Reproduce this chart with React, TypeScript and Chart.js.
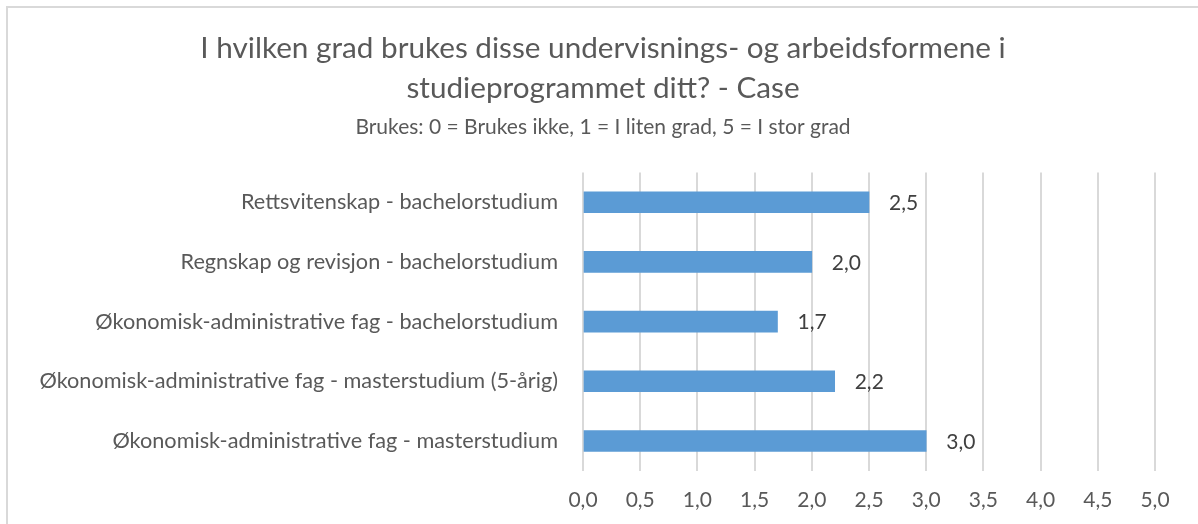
import React, { useEffect, useRef } from "react";
import { Chart, registerables } from "chart.js";

Chart.register(...registerables);

const categories = [
  "Rettsvitenskap - bachelorstudium",
  "Regnskap og revisjon - bachelorstudium",
  "Økonomisk-administrative fag - bachelorstudium",
  "Økonomisk-administrative fag - masterstudium (5-årig)",
  "Økonomisk-administrative fag - masterstudium",
];
const values = [2.5, 2.0, 1.7, 2.2, 3.0];
const titleLines = [
  "I hvilken grad brukes disse undervisnings- og arbeidsformene i",
  "studieprogrammet ditt? - Case",
];
const subtitleText = "Brukes: 0 = Brukes ikke, 1 = I liten grad, 5 = I stor grad";

const FONT = "Lato, 'Open Sans', sans-serif";
const fmt = (v: number) => v.toFixed(1).replace(".", ",");

const valueLabels = {
  id: "valueLabels",
  afterDatasetsDraw(chart: any) {
    const ctx = chart.ctx;
    const meta = chart.getDatasetMeta(0);
    ctx.save();
    ctx.font = `21px ${FONT}`;
    ctx.fillStyle = "#404040";
    ctx.textAlign = "left";
    ctx.textBaseline = "middle";
    meta.data.forEach((bar: any, i: number) => {
      ctx.fillText(fmt(values[i]), bar.x + 20, bar.y + 1);
    });
    ctx.restore();
  },
};

export default function App() {
  const ref = useRef<HTMLCanvasElement | null>(null);
  useEffect(() => {
    if (!ref.current) return;
    const chart = new Chart(ref.current, {
      type: "bar",
      data: {
        labels: categories,
        datasets: [
          {
            data: values,
            backgroundColor: "#5B9BD5",
            barThickness: 21,
          },
        ],
      },
      options: {
        indexAxis: "y",
        animation: false,
        responsive: false,
        layout: { padding: { top: 0, bottom: 8, right: 0, left: 0 } },
        plugins: {
          legend: { display: false },
          tooltip: { enabled: false },
          title: {
            display: true,
            text: titleLines,
            color: "#595959",
            font: { family: FONT, size: 29.7, weight: "normal", lineHeight: 1.35 },
            padding: { top: 20, bottom: 6 },
          },
          subtitle: {
            display: true,
            text: subtitleText,
            color: "#595959",
            font: { family: FONT, size: 21, weight: "normal", lineHeight: 1.2 },
            padding: { top: 0, bottom: 33 },
          },
        },
        scales: {
          x: {
            min: 0,
            max: 5,
            ticks: {
              stepSize: 0.5,
              color: "#595959",
              font: { family: FONT, size: 21 },
              padding: 17,
              callback: (v: any) => fmt(Number(v)),
            },
            grid: { color: "#d9d9d9", lineWidth: 2, drawTicks: false },
            border: { display: false },
          },
          y: {
            ticks: {
              color: "#595959",
              font: { family: FONT, size: 21.7 },
              padding: 25,
            },
            grid: { display: false, drawTicks: false },
            border: { display: false },
            afterFit: (scale: any) => {
              scale.width = 575;
            },
          },
          yRight: {
            type: "linear",
            axis: "y",
            position: "right",
            display: true,
            ticks: { display: false },
            grid: { display: false, drawTicks: false },
            border: { display: false },
            afterFit: (scale: any) => {
              scale.width = 43;
            },
          },
        },
      },
      plugins: [valueLabels],
    });
    return () => chart.destroy();
  }, []);
  return (
    <div
      style={{
        position: "absolute",
        left: 6,
        top: 6,
        width: 1190,
        height: 530,
        border: "2px solid #d9d9d9",
        background: "#fff",
      }}
    >
      <canvas ref={ref} width={1190} height={530} style={{ display: "block" }} />
    </div>
  );
}
